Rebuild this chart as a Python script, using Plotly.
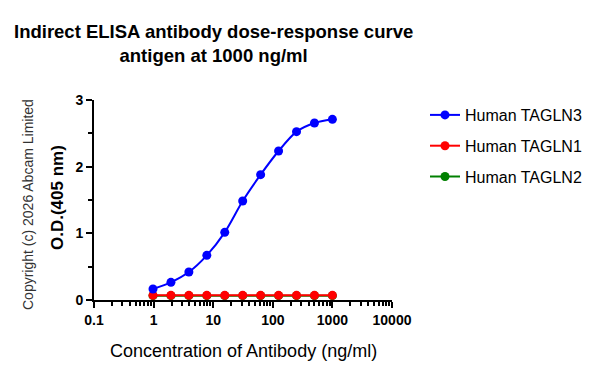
import plotly.graph_objects as go

conc = [1000/2**i for i in range(10, -1, -1)]
tagln3 = [0.165, 0.265, 0.42, 0.67, 1.015, 1.485, 1.88, 2.235, 2.525, 2.655, 2.71]
tagln1 = [0.07]*11
tagln2 = [0.065]*11

x_ticks = [0.1, 1, 10, 100, 1000, 10000]
x_tick_labels = ["0.1", "1", "10", "100", "1000", "10000"]
y_ticks = [0, 1, 2, 3]

L, R, T, B = 94, 392, 100, 300
W, H = 595, 375
FONT = "Arial, Liberation Sans"

def px(xp):
    return (xp - L) / (R - L)

def py(yp):
    return (B - yp) / (B - T)

fig = go.Figure()
series = [("Human TAGLN3", tagln3, "#0000ff"), ("Human TAGLN1", tagln1, "#ff0000"), ("Human TAGLN2", tagln2, "#008000")]
for idx in [2, 1, 0]:
    name, ys, col = series[idx]
    fig.add_trace(go.Scatter(
        x=conc, y=ys, name=name, mode="lines+markers",
        line=dict(color=col, width=2, shape="spline", smoothing=0.8),
        marker=dict(color=col, size=9), cliponaxis=False,
        legendrank=idx + 1, legendgroup=name,
    ))

fig.update_xaxes(
    type="log", range=[-1, 4], tickvals=x_ticks, ticktext=x_tick_labels,
    showline=True, linecolor="black", linewidth=2, ticks="outside", ticklen=6, tickwidth=2,
    tickcolor="black", showgrid=False, zeroline=False,
    minor=dict(ticks="outside", ticklen=4, tickwidth=1.5, tickcolor="black", dtick="D1", showgrid=False),
    tickfont=dict(family=FONT, size=14, color="black", weight="bold"),
)
fig.update_yaxes(
    range=[0, 3], tickvals=y_ticks,
    showline=True, linecolor="black", linewidth=2, ticks="outside", ticklen=6, tickwidth=2,
    tickcolor="black", showgrid=False, zeroline=False,
    minor=dict(ticks="outside", ticklen=4, tickwidth=1.5, tickcolor="black", dtick=0.5, showgrid=False),
    tickfont=dict(family=FONT, size=14, color="black", weight="bold"),
)

fig.add_annotation(
    text="Indirect ELISA antibody dose-response curve<br>antigen at 1000 ng/ml",
    xref="paper", yref="paper", x=px(213), y=py(43),
    showarrow=False, align="center", xanchor="center", yanchor="middle",
    font=dict(family=FONT, size=18.5, color="black", weight="bold"),
)
fig.add_annotation(
    text="Concentration of Antibody (ng/ml)",
    xref="paper", yref="paper", x=px(243), y=py(351),
    showarrow=False, xanchor="center", yanchor="middle",
    font=dict(family=FONT, size=18, color="black"),
)
fig.add_annotation(
    text="O.D.(405 nm)", textangle=-90,
    xref="paper", yref="paper", x=px(57), y=py(198),
    showarrow=False, xanchor="center", yanchor="middle",
    font=dict(family=FONT, size=17, color="black", weight="bold"),
)
fig.add_annotation(
    text="Copyright (c) 2026 Abcam Limited", textangle=-90,
    xref="paper", yref="paper", x=px(28), y=py(205),
    showarrow=False, xanchor="center", yanchor="middle",
    font=dict(family=FONT, size=14, color="#333333"),
)

fig.update_layout(
    width=W, height=H,
    margin=dict(l=L, r=W - R, t=T, b=H - B, pad=0, autoexpand=False),
    plot_bgcolor="white", paper_bgcolor="white",
    showlegend=True,
    legend=dict(xref="container", yref="container", x=425 / W, y=1 - 98 / H,
                xanchor="left", yanchor="top",
                font=dict(family=FONT, size=16, color="black"),
                tracegroupgap=7, itemwidth=30, bgcolor="rgba(0,0,0,0)"),
)

fig.write_html("out.html")
